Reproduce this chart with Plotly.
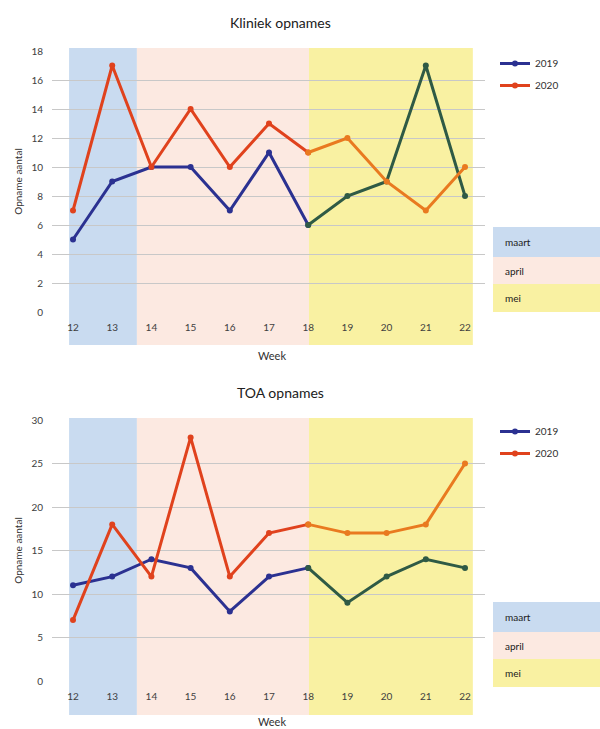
import plotly.graph_objects as go

weeks = [12, 13, 14, 15, 16, 17, 18, 19, 20, 21, 22]
kliniek_2019 = [5, 9, 10, 10, 7, 11, 6, 8, 9, 17, 8]
kliniek_2020 = [7, 17, 10, 14, 10, 13, 11, 12, 9, 7, 10]
toa_2019 = [11, 12, 14, 13, 8, 12, 13, 9, 12, 14, 13]
toa_2020 = [7, 18, 12, 28, 12, 17, 18, 17, 17, 18, 25]
months = ["maart", "april", "mei"]
month_spans = [(11.9, 13.63), (13.63, 18.02), (18.02, 22.2)]
month_colors = ["#c9dbf0", "#fce9e1", "#f9f1a2"]
mei_start_week = 18

FONT = "Lato"
C2019 = "#2b3191"
C2019_MEI = "#2f5a45"
C2020 = "#e0421d"
C2020_MEI = "#e97a20"

fig = go.Figure()

split = weeks.index(mei_start_week)

def add_series(vals, name, col, col_mei, xa, ya, legend):
    grp = legend + name
    fig.add_trace(go.Scatter(
        x=weeks[:split + 1], y=vals[:split + 1], mode="lines+markers", name=name,
        line=dict(color=col, width=3), marker=dict(color=col, size=6),
        xaxis=xa, yaxis=ya, legend=legend, legendgroup=grp, showlegend=True))
    fig.add_trace(go.Scatter(
        x=weeks[split:], y=vals[split:], mode="lines+markers", name=name,
        line=dict(color=col_mei, width=3), marker=dict(color=col_mei, size=6),
        xaxis=xa, yaxis=ya, legend=legend, legendgroup=grp, showlegend=False))

add_series(kliniek_2019, "2019", C2019, C2019_MEI, "x", "y", "legend")
add_series(kliniek_2020, "2020", C2020, C2020_MEI, "x", "y", "legend")
add_series(toa_2019, "2019", C2019, C2019_MEI, "x2", "y2", "legend2")
add_series(toa_2020, "2020", C2020, C2020_MEI, "x2", "y2", "legend2")

H = 729.0
def py(px):
    return 1 - px / H

xdom = [52 / 600, 485 / 600]
xrange_ = [11.464, 22.51]

charts = [
    dict(xa="x", ya="y", dom=[py(312), py(51)], rng=[0, 18], dt=2,
         band=[py(345), py(48)], title="Kliniek opnames", ty=py(22), wy=py(356),
         box=[227, 257, 284, 312], leg_y=py(49)),
    dict(xa="x2", ya="y2", dom=[py(681), py(420)], rng=[0, 30], dt=5,
         band=[py(715), py(418)], title="TOA opnames", ty=py(392), wy=py(721),
         box=[602, 632, 659, 687], leg_y=py(417)),
]

shapes = []
annotations = []
for i, c in enumerate(charts):
    xkey = "xaxis" if c["xa"] == "x" else "xaxis2"
    ykey = "yaxis" if c["ya"] == "y" else "yaxis2"
    fig.update_layout(**{
        xkey: dict(domain=xdom, range=xrange_, tickmode="array", tickvals=weeks,
                   ticktext=[str(w) for w in weeks], showgrid=False, zeroline=False,
                   showline=False, ticks="outside", ticklen=6, tickcolor="rgba(0,0,0,0)",
                   tickfont=dict(family=FONT, size=10, color="#404040"),
                   anchor=c["ya"], fixedrange=True, automargin=False),
        ykey: dict(domain=c["dom"], range=c["rng"], dtick=c["dt"], showgrid=True,
                   gridcolor="#c8c8c8", gridwidth=1, zeroline=False, showline=False,
                   ticks="outside", ticklen=6, tickcolor="rgba(0,0,0,0)",
                   tickfont=dict(family=FONT, size=10, color="#404040"),
                   title=dict(text="Opname aantal", font=dict(family=FONT, size=10, color="#303030"),
                              standoff=6),
                   anchor=c["xa"], fixedrange=True, automargin=False),
    })
    for (x0, x1), col in zip(month_spans, month_colors):
        shapes.append(dict(type="rect", xref=c["xa"], yref="paper", x0=x0, x1=x1,
                           y0=c["band"][0], y1=c["band"][1], fillcolor=col,
                           line=dict(width=0), layer="below"))
    annotations.append(dict(text=c["title"], x=280 / 600, y=c["ty"], xref="paper", yref="paper",
                            showarrow=False, xanchor="center", yanchor="middle",
                            font=dict(family=FONT, size=14, color="#202020")))
    annotations.append(dict(text="Week", x=(xdom[0] + xdom[1]) / 2 + 0.005, y=c["wy"], xref="paper",
                            yref="paper", showarrow=False, xanchor="center", yanchor="middle",
                            font=dict(family=FONT, size=11, color="#303030")))
    b = c["box"]
    for j, (m, col) in enumerate(zip(months, month_colors)):
        shapes.append(dict(type="rect", xref="paper", yref="paper", x0=493 / 600, x1=1.0,
                           y0=py(b[j + 1]), y1=py(b[j]), fillcolor=col, line=dict(width=0),
                           layer="below"))
        annotations.append(dict(text=m, x=503 / 600, y=py((b[j] + b[j + 1]) / 2), xref="paper",
                                yref="paper", showarrow=False, xanchor="left", yanchor="middle",
                                font=dict(family=FONT, size=10, color="#202020")))

legend_common = dict(xanchor="left", yanchor="top", bgcolor="rgba(0,0,0,0)",
                     font=dict(family=FONT, size=10, color="#303030"), itemwidth=30,
                     tracegroupgap=3)
fig.update_layout(
    legend=dict(x=495 / 600, y=charts[0]["leg_y"], **legend_common),
    legend2=dict(x=495 / 600, y=charts[1]["leg_y"], **legend_common),
    shapes=shapes, annotations=annotations,
    width=600, height=729, margin=dict(l=0, r=0, t=0, b=0, autoexpand=False),
    paper_bgcolor="white", plot_bgcolor="rgba(0,0,0,0)",
    font=dict(family=FONT),
)

fig.write_html("out.html", config={"displayModeBar": False},
               post_script="document.body.style.margin='0';document.body.style.overflow='hidden';")
